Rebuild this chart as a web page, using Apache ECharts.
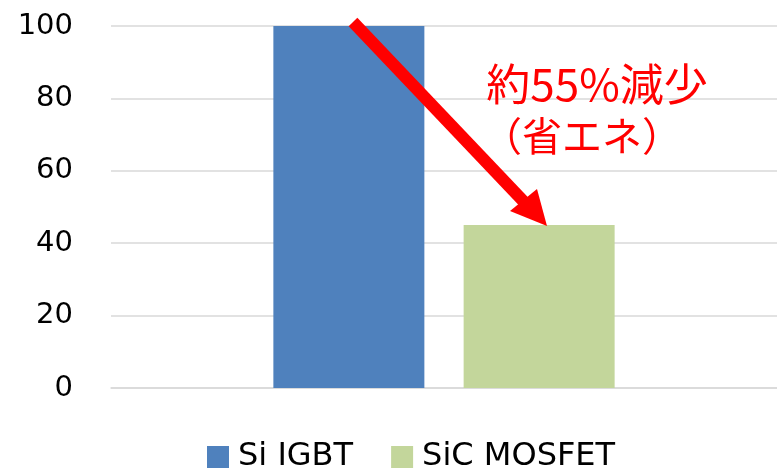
<!DOCTYPE html>
<html><head><meta charset="utf-8">
<script src="https://cdn.jsdelivr.net/npm/echarts@6/dist/echarts.min.js"></script>
<style>html,body{margin:0;padding:0;background:#fff}#c{width:777px;height:468px}</style>
</head><body><div id="c"></div>
<script>
const categories = [''];
const seriesNames = ['Si IGBT', 'SiC MOSFET'];
const siIgbt = [100];
const sicMosfet = [45];
const yTicks = [0, 20, 40, 60, 80, 100];
const note1 = '約55%減少';
const note2 = '（省エネ）';

const chart = echarts.init(document.getElementById('c'), null, {renderer: 'canvas'});
const font = '"DejaVu Sans", Verdana, sans-serif';
chart.setOption({
  animation: false,
  backgroundColor: '#fff',
  grid: {left: 111, right: -3, top: 26, bottom: 80},
  legend: {
    data: seriesNames, bottom: -5, left: 207, padding: 0,
    itemWidth: 22, itemHeight: 22, itemGap: 38, icon: 'rect',
    textStyle: {fontFamily: font, fontSize: 32, color: '#000', padding: [0, 0, 8, 4]}
  },
  xAxis: {type: 'category', data: categories,
    axisLine: {lineStyle: {color: '#d9d9d9', width: 1.5}}, axisTick: {show: false}, axisLabel: {show: false}},
  yAxis: {type: 'value', min: yTicks[0], max: yTicks[yTicks.length - 1], interval: yTicks[1] - yTicks[0],
    axisLine: {show: false}, axisTick: {show: false},
    axisLabel: {fontFamily: font, fontSize: 29, color: '#000', margin: 38},
    splitLine: {lineStyle: {color: '#d9d9d9', width: 1.5}}},
  series: [
    {name: seriesNames[0], type: 'bar', data: siIgbt, barWidth: 151, barGap: '26%', itemStyle: {color: '#4f81bd'}},
    {name: seriesNames[1], type: 'bar', data: sicMosfet, barWidth: 151, itemStyle: {color: '#c3d69b'}}
  ],
  graphic: [
    {type: 'line', z: 100, shape: {x1: 353, y1: 22, x2: 527, y2: 205}, style: {stroke: '#ff0000', lineWidth: 12}},
    {type: 'polygon', z: 100, shape: {points: [[510, 211], [537, 189], [547, 226]]}, style: {fill: '#ff0000'}},
    {type: 'text', z: 100, x: 597, y: 84, style: {text: note1, fill: '#ff0000', font: '44px "Noto Sans CJK JP"', textAlign: 'center', textVerticalAlign: 'middle'}},
    {type: 'text', z: 100, x: 582, y: 136, style: {text: note2, fill: '#ff0000', font: '40px "Noto Sans CJK JP"', textAlign: 'center', textVerticalAlign: 'middle'}}
  ]
});
</script></body></html>
